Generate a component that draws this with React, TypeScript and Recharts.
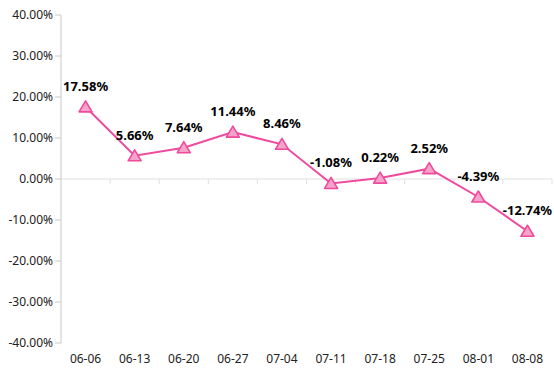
import { LineChart, Line, XAxis, YAxis, ReferenceLine, LabelList } from "recharts";

const weeks = ["06-06", "06-13", "06-20", "06-27", "07-04", "07-11", "07-18", "07-25", "08-01", "08-08"];
const returns = [17.58, 5.66, 7.64, 11.44, 8.46, -1.08, 0.22, 2.52, -4.39, -12.74];
const yTicks = [-40, -30, -20, -10, 0, 10, 20, 30, 40];

const data = weeks.map((week, i) => ({ week, value: returns[i] }));

const FONT = "'Noto Sans', sans-serif";
const PINK = "#ee4b9c";
const AXIS = "#c8c8c8";

const fmt = (v: number) => `${v.toFixed(2)}%`;

// triangle marker
function Triangle(props: any) {
  const { cx, cy } = props;
  if (cx == null || cy == null) return null;
  return (
    <polygon
      points={`${cx},${cy - 6} ${cx - 6.5},${cy + 5} ${cx + 6.5},${cy + 5}`}
      fill="#f5a3c9"
      stroke={PINK}
      strokeWidth={1.6}
      strokeLinejoin="round"
    />
  );
}

// horizontal axis drawn at zero, with tick marks on category boundaries
function ZeroAxis(props: any) {
  const { x1, x2, y1 } = props;
  const n = weeks.length;
  const step = (x2 - x1) / n;
  const ticks = [];
  for (let k = 1; k <= n; k++) {
    const x = x1 + k * step;
    ticks.push(<line key={k} x1={x} x2={x} y1={y1} y2={y1 + 5} stroke="#e0e0e0" />);
  }
  return (
    <g>
      <line x1={x1} x2={x2} y1={y1} y2={y1} stroke="#e0e0e0" />
      {ticks}
    </g>
  );
}

export default function App() {
  return (
    <div style={{ position: "absolute", left: 0, top: 0, background: "#fff" }}>
      <LineChart width={554} height={384} data={data} margin={{ top: 15, right: 2, bottom: 0, left: 0 }}>
        <XAxis
          dataKey="week"
          scale="band"
          height={41}
          axisLine={false}
          tickLine={false}
          tickMargin={5}
          tick={{ fontSize: 12, fill: "#222", fontFamily: FONT }}
        />
        <YAxis
          width={61}
          domain={[-40, 40]}
          ticks={yTicks}
          tickFormatter={fmt}
          axisLine={{ stroke: AXIS }}
          tickLine={{ stroke: AXIS }}
          tick={{ fontSize: 12, fill: "#222", fontFamily: FONT }}
        />
        <ReferenceLine y={0} shape={<ZeroAxis />} />
        <Line
          dataKey="value"
          stroke={PINK}
          strokeWidth={2}
          dot={<Triangle />}
          activeDot={false}
          isAnimationActive={false}
        >
          <LabelList
            dataKey="value"
            position="top"
            offset={16}
            formatter={(v: any) => fmt(Number(v))}
            style={{ fontSize: 13, fontWeight: 700, fill: "#000", fontFamily: FONT }}
          />
        </Line>
      </LineChart>
    </div>
  );
}
